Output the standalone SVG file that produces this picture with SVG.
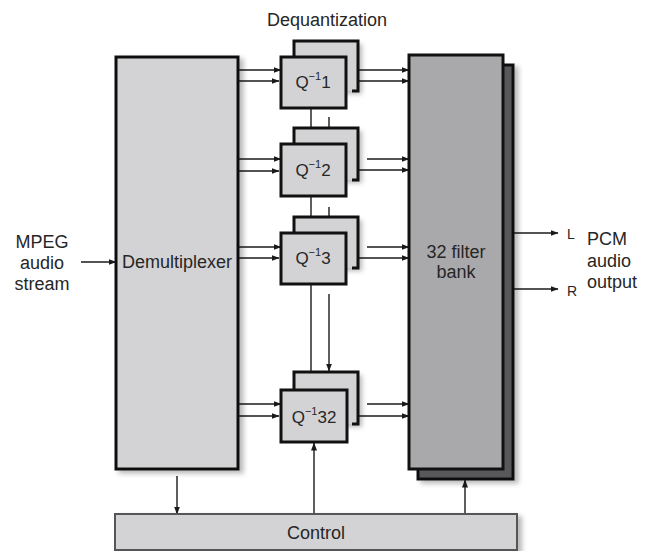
<svg xmlns="http://www.w3.org/2000/svg" width="652" height="551" viewBox="0 0 652 551">
<defs>
<marker id="ah" markerWidth="8" markerHeight="6" refX="7.5" refY="3" orient="auto" markerUnits="userSpaceOnUse">
<path d="M0,0 L8,3 L0,6 Z" fill="#1a1a1a"/>
</marker>
<filter id="sh" x="-10%" y="-10%" width="130%" height="130%">
<feDropShadow dx="4" dy="3" stdDeviation="2.5" flood-color="#000" flood-opacity="0.28"/>
</filter>
<style>
.box{fill:#d3d3d5;stroke:#111;stroke-width:3}
.back{fill:#d3d3d5;stroke:none}
.hook{fill:none;stroke:#111;stroke-width:3}
.ln{fill:none;stroke:#1a1a1a;stroke-width:1.4}
.ar{fill:none;stroke:#1a1a1a;stroke-width:1.4;marker-end:url(#ah)}
.t{font-family:"Liberation Sans",Arial,sans-serif;font-size:18px;fill:#262626}
.q{font-family:"Liberation Sans",Arial,sans-serif;font-size:17px;fill:#262626}
.s{font-family:"Liberation Sans",Arial,sans-serif;font-size:14px;fill:#262626}
</style>
</defs>
<rect width="652" height="551" fill="#fff"/>

<g id="connectors">
<line class="ar" x1="81" y1="262" x2="116" y2="262"/>
<!-- Q1 -->
<line class="ar" x1="238" y1="70" x2="281" y2="70"/>
<line class="ar" x1="238" y1="81" x2="279" y2="81"/>
<line class="ar" x1="358" y1="70" x2="409" y2="70"/>
<line class="ar" x1="346" y1="81" x2="409" y2="81"/>
<!-- Q2 -->
<line class="ar" x1="238" y1="159" x2="281" y2="159"/>
<line class="ar" x1="238" y1="171" x2="279" y2="171"/>
<line class="ar" x1="367" y1="159" x2="409" y2="159"/>
<line class="ar" x1="346" y1="170" x2="409" y2="170"/>
<!-- Q3 -->
<line class="ar" x1="238" y1="247" x2="281" y2="247"/>
<line class="ar" x1="238" y1="258" x2="279" y2="258"/>
<line class="ar" x1="367" y1="247" x2="409" y2="247"/>
<line class="ar" x1="346" y1="258" x2="409" y2="258"/>
<!-- Q32 -->
<line class="ar" x1="238" y1="404" x2="281" y2="404"/>
<line class="ar" x1="238" y1="416" x2="279" y2="416"/>
<line class="ar" x1="367" y1="404" x2="409" y2="404"/>
<line class="ar" x1="347" y1="416" x2="409" y2="416"/>
<!-- vertical chain -->
<line class="ln" x1="311" y1="107" x2="311" y2="144"/>
<line class="ln" x1="329" y1="117" x2="329" y2="128"/>
<line class="ln" x1="311" y1="196" x2="311" y2="233"/>
<line class="ln" x1="329" y1="207" x2="329" y2="217"/>
<line class="ar" x1="311" y1="284" x2="311" y2="389"/>
<line class="ar" x1="329" y1="294" x2="329" y2="371"/>
<!-- control -->
<line class="ar" x1="177" y1="476" x2="177" y2="514"/>
<line class="ar" x1="314" y1="514" x2="314" y2="443"/>
<line class="ar" x1="465" y1="514" x2="465" y2="480"/>
<!-- outputs -->
<line class="ar" x1="513" y1="233" x2="558" y2="233"/>
<line class="ar" x1="513" y1="289" x2="558" y2="289"/>
</g>

<g id="demux">
<rect class="box" x="116" y="57" width="122" height="412" filter="url(#sh)"/>
<text class="t" x="177" y="268" text-anchor="middle">Demultiplexer</text>
</g>

<g id="q1">
<rect class="back" x="294" y="41" width="64" height="50" filter="url(#sh)"/>
<path class="hook" d="M294,57 V41 H358 V91 H352"/>
<rect class="box" x="281" y="57" width="65" height="51"/>
<text class="q" x="313" y="88" text-anchor="middle">Q<tspan font-size="11" dy="-8">−1</tspan><tspan dy="8">1</tspan></text>
</g>

<g id="q2">
<rect class="back" x="294" y="128" width="64" height="52" filter="url(#sh)"/>
<path class="hook" d="M294,144 V128 H358 V180 H352"/>
<rect class="box" x="281" y="144" width="65" height="52"/>
<text class="q" x="313" y="176" text-anchor="middle">Q<tspan font-size="11" dy="-8">−1</tspan><tspan dy="8">2</tspan></text>
</g>

<g id="q3">
<rect class="back" x="294" y="217" width="64" height="51" filter="url(#sh)"/>
<path class="hook" d="M294,233 V217 H358 V268 H352"/>
<rect class="box" x="281" y="233" width="65" height="51"/>
<text class="q" x="313" y="264" text-anchor="middle">Q<tspan font-size="11" dy="-8">−1</tspan><tspan dy="8">3</tspan></text>
</g>

<g id="q32">
<rect class="back" x="294" y="372" width="64" height="52" filter="url(#sh)"/>
<path class="hook" d="M294,390 V372 H358 V424 H352"/>
<rect class="box" x="281" y="390" width="66" height="52"/>
<text class="q" x="314" y="423" text-anchor="middle">Q<tspan font-size="11" dy="-8">−1</tspan><tspan dy="8">32</tspan></text>
</g>

<g id="filterbank">
<rect x="418" y="65" width="95" height="414" fill="#58585a" stroke="#111" stroke-width="3" filter="url(#sh)"/>
<rect x="409" y="55" width="94" height="414" fill="#a9a9ab" stroke="#111" stroke-width="3"/>
<text class="t" x="456" y="258" text-anchor="middle">32 filter</text>
<text class="t" x="456" y="278" text-anchor="middle">bank</text>
</g>

<g id="control">
<rect x="115" y="514" width="402" height="36" fill="#d3d3d5" stroke="#555" stroke-width="2" filter="url(#sh)"/>
<text class="t" x="316" y="539" text-anchor="middle">Control</text>
</g>

<g id="labels">
<text class="t" x="327" y="26" text-anchor="middle">Dequantization</text>
<text class="t" x="42" y="248" text-anchor="middle">MPEG</text>
<text class="t" x="42" y="269" text-anchor="middle">audio</text>
<text class="t" x="42" y="290" text-anchor="middle">stream</text>
<text class="s" x="567" y="239">L</text>
<text class="s" x="567" y="296">R</text>
<text class="t" x="587" y="245">PCM</text>
<text class="t" x="587" y="267">audio</text>
<text class="t" x="587" y="288">output</text>
</g>
</svg>
